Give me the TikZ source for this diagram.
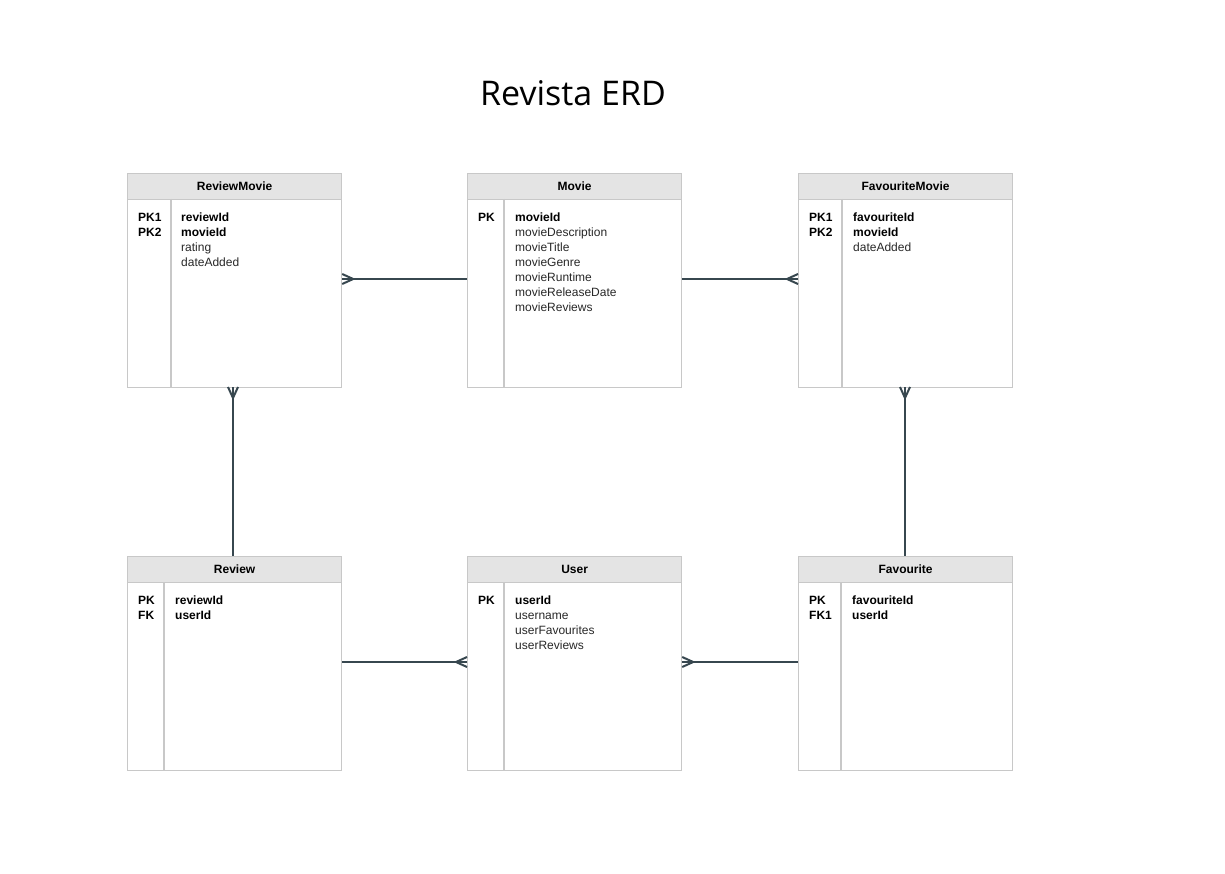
\documentclass[tikz,border=0pt]{standalone}
\usepackage{fontspec}
\setmainfont{Liberation Sans}
\newfontfamily\titlefont{Open Sans}
\definecolor{bordergray}{RGB}{200,200,200}
\definecolor{headgray}{RGB}{228,228,228}
\definecolor{linkc}{RGB}{55,71,79}
\definecolor{fieldc}{RGB}{40,40,40}
\tikzset{
  tbl/.style={draw=bordergray, line width=1.2pt, fill=white, anchor=north west, minimum width=214pt, minimum height=214pt, inner sep=0pt},
  hdr/.style={draw=bordergray, line width=1.2pt, fill=headgray, anchor=north west, minimum width=214pt, minimum height=26pt, inner sep=0pt, font=\fontsize{12}{15}\selectfont\bfseries},
  divider/.style={draw=bordergray, line width=1.2pt},
  keys/.style={anchor=north west, inner sep=0pt, align=left, font=\fontsize{12}{15}\selectfont\bfseries},
  fields/.style={anchor=north west, inner sep=0pt, align=left, text=fieldc, font=\fontsize{12}{15}\selectfont},
  link/.style={draw=linkc, line width=2.4pt},
  crow/.style={draw=linkc, line width=2pt, line join=miter},
}
\begin{document}
\begin{tikzpicture}[x=1pt,y=-1pt]
\useasboundingbox (0,0) rectangle (1225,874);
\node[font=\fontsize{34}{40}\selectfont\titlefont] (title) at (573,93) {Revista ERD};

% ReviewMovie
\node[tbl] (rm) at (127,173) {};
\node[hdr] (rmh) at (127,173) {ReviewMovie};
\draw[divider] (171,199) -- (171,387);
\node[keys] (rmk) at (138,213) {PK1\\PK2};
\node[fields] (rmf) at (181,213) {\textbf{\color{black}reviewId}\\\textbf{\color{black}movieId}\\rating\\dateAdded};

% Movie
\node[tbl] (mv) at (467,173) {};
\node[hdr] (mvh) at (467,173) {Movie};
\draw[divider] (504,199) -- (504,387);
\node[keys] (mvk) at (478,213) {PK};
\node[fields] (mvf) at (515,213) {\textbf{\color{black}movieId}\\movieDescription\\movieTitle\\movieGenre\\movieRuntime\\movieReleaseDate\\movieReviews};

% FavouriteMovie
\node[tbl] (fm) at (798,173) {};
\node[hdr] (fmh) at (798,173) {FavouriteMovie};
\draw[divider] (842,199) -- (842,387);
\node[keys] (fmk) at (809,213) {PK1\\PK2};
\node[fields] (fmf) at (853,213) {\textbf{\color{black}favouriteId}\\\textbf{\color{black}movieId}\\dateAdded};

% Review
\node[tbl] (rv) at (127,556) {};
\node[hdr] (rvh) at (127,556) {Review};
\draw[divider] (164,582) -- (164,770);
\node[keys] (rvk) at (138,596) {PK\\FK};
\node[fields] (rvf) at (175,596) {\textbf{\color{black}reviewId}\\\textbf{\color{black}userId}};

% User
\node[tbl] (us) at (467,556) {};
\node[hdr] (ush) at (467,556) {User};
\draw[divider] (504,582) -- (504,770);
\node[keys] (usk) at (478,596) {PK};
\node[fields] (usf) at (515,596) {\textbf{\color{black}userId}\\username\\userFavourites\\userReviews};

% Favourite
\node[tbl] (fv) at (798,556) {};
\node[hdr] (fvh) at (798,556) {Favourite};
\draw[divider] (841,582) -- (841,770);
\node[keys] (fvk) at (809,596) {PK\\FK1};
\node[fields] (fvf) at (852,596) {\textbf{\color{black}favouriteId}\\\textbf{\color{black}userId}};

% connectors
\coordinate (rmE) at (rm.east |- 0,279);
\coordinate (mvW) at (mv.west |- 0,279);
\coordinate (mvE) at (mv.east |- 0,279);
\coordinate (fmW) at (fm.west |- 0,279);
\draw[link] (rmE) -- (mvW);
\draw[crow] (rmE) ++(0,-5) -- ++(11,5) -- ++(-11,5);
\draw[link] (mvE) -- (fmW);
\draw[crow] (fmW) ++(0,-5) -- ++(-11,5) -- ++(11,5);

\coordinate (rmS) at (233,387);
\coordinate (rvN) at (233,556);
\draw[link] (rmS) -- (rvN);
\draw[crow] (rmS) ++(-5,0) -- ++(5,11) -- ++(5,-11);

\coordinate (fmS) at (905,387);
\coordinate (fvN) at (905,556);
\draw[link] (fmS) -- (fvN);
\draw[crow] (fmS) ++(-5,0) -- ++(5,11) -- ++(5,-11);

\coordinate (rvE) at (rv.east |- 0,662);
\coordinate (usW) at (us.west |- 0,662);
\coordinate (usE) at (us.east |- 0,662);
\coordinate (fvW) at (fv.west |- 0,662);
\draw[link] (rvE) -- (usW);
\draw[crow] (usW) ++(0,-5) -- ++(-11,5) -- ++(11,5);
\draw[link] (usE) -- (fvW);
\draw[crow] (usE) ++(0,-5) -- ++(11,5) -- ++(-11,5);
\end{tikzpicture}
\end{document}
